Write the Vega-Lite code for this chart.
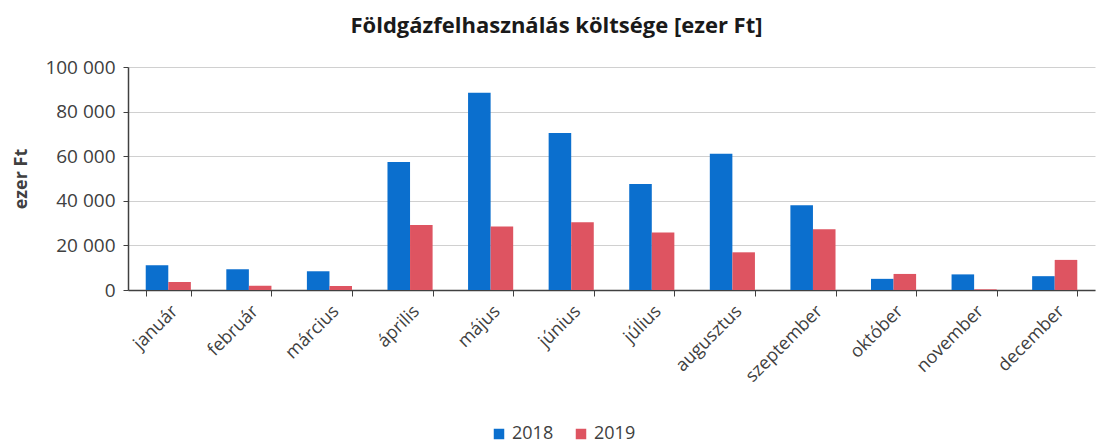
{
  "$schema": "https://vega.github.io/schema/vega-lite/v6.json",
  "width": 967,
  "height": 223,
  "autosize": "none",
  "padding": {"left": 128, "top": 67, "right": 10, "bottom": 156},
  "background": "white",
  "config": {
    "locale": {"number": {"decimal": ",", "thousands": " ", "grouping": [3], "currency": ["", ""]}},
    "font": "Open Sans",
    "view": {"stroke": null}
  },
  "title": {
    "text": "Földgázfelhasználás költsége [ezer Ft]",
    "fontSize": 22,
    "fontWeight": "bold",
    "color": "#1a1a1a",
    "font": "Open Sans",
    "anchor": "middle",
    "dx": -55,
    "offset": 20
  },
  "data": {
    "values": [
      {"honap": "január", "ev": "2018", "ertek": 11100},
      {"honap": "január", "ev": "2019", "ertek": 3600},
      {"honap": "február", "ev": "2018", "ertek": 9300},
      {"honap": "február", "ev": "2019", "ertek": 1900},
      {"honap": "március", "ev": "2018", "ertek": 8400},
      {"honap": "március", "ev": "2019", "ertek": 1800},
      {"honap": "április", "ev": "2018", "ertek": 57400},
      {"honap": "április", "ev": "2019", "ertek": 29200},
      {"honap": "május", "ev": "2018", "ertek": 88400},
      {"honap": "május", "ev": "2019", "ertek": 28500},
      {"honap": "június", "ev": "2018", "ertek": 70400},
      {"honap": "június", "ev": "2019", "ertek": 30400},
      {"honap": "július", "ev": "2018", "ertek": 47500},
      {"honap": "július", "ev": "2019", "ertek": 25800},
      {"honap": "augusztus", "ev": "2018", "ertek": 61100},
      {"honap": "augusztus", "ev": "2019", "ertek": 16900},
      {"honap": "szeptember", "ev": "2018", "ertek": 38000},
      {"honap": "szeptember", "ev": "2019", "ertek": 27200},
      {"honap": "október", "ev": "2018", "ertek": 5000},
      {"honap": "október", "ev": "2019", "ertek": 7200},
      {"honap": "november", "ev": "2018", "ertek": 7000},
      {"honap": "november", "ev": "2019", "ertek": 300},
      {"honap": "december", "ev": "2018", "ertek": 6200},
      {"honap": "december", "ev": "2019", "ertek": 13500}
    ]
  },
  "mark": {"type": "bar"},
  "encoding": {
    "x": {
      "field": "honap",
      "type": "nominal",
      "sort": null,
      "title": null,
      "scale": {"paddingInner": 0.44, "paddingOuter": 0.22},
      "axis": {
        "labelAngle": -45,
        "labelFontSize": 18,
        "labelColor": "#404040",
        "labelPadding": 6,
        "tickBand": "extent",
        "tickSize": 6,
        "tickColor": "#404040",
        "domainColor": "#404040",
        "domainWidth": 1.5,
        "grid": false
      }
    },
    "xOffset": {"field": "ev", "type": "nominal"},
    "y": {
      "field": "ertek",
      "type": "quantitative",
      "title": "ezer Ft",
      "scale": {"domain": [0, 100000]},
      "axis": {
        "format": ",d",
        "values": [0, 20000, 40000, 60000, 80000, 100000],
        "labelFontSize": 19,
        "labelColor": "#404040",
        "titleFontSize": 18,
        "titleFontWeight": "bold",
        "titleColor": "#404040",
        "titlePadding": 14,
        "gridColor": "#d0d0d0",
        "gridWidth": 1,
        "domainColor": "#404040",
        "domainWidth": 1.5,
        "tickSize": 5,
        "tickColor": "#404040",
        "labelPadding": 8
      }
    },
    "color": {
      "field": "ev",
      "type": "nominal",
      "title": null,
      "scale": {"domain": ["2018", "2019"], "range": ["#0b6fce", "#de5461"]},
      "legend": {
        "orient": "none",
        "legendX": 362,
        "legendY": 358,
        "direction": "horizontal",
        "symbolType": "square",
        "symbolSize": 110,
        "symbolStrokeWidth": 0,
        "labelFontSize": 18,
        "labelColor": "#404040",
        "columnPadding": 18
      }
    }
  }
}
